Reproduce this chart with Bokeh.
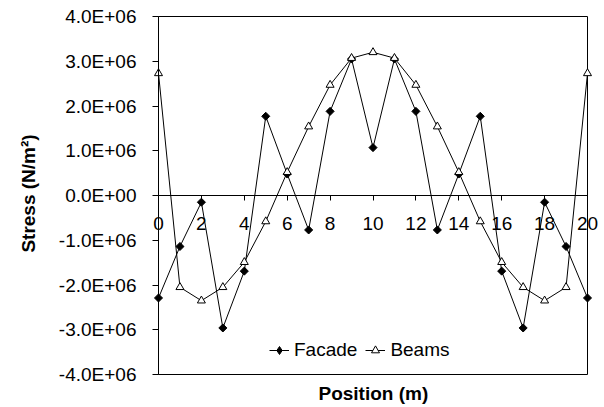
from bokeh.plotting import figure
from bokeh.models import (Range1d, FixedTicker, Legend, LegendItem, LinearAxis,
                          Title)
from bokeh.embed import file_html
from bokeh.resources import INLINE

# Stress along the position of the structure
position = list(range(21))
facade = [-2.29e6, -1.14e6, -0.15e6, -2.96e6, -1.69e6, 1.77e6, 0.48e6, -0.77e6,
          1.88e6, 3.05e6, 1.07e6, 3.05e6, 1.88e6, -0.77e6, 0.48e6, 1.77e6,
          -1.69e6, -2.96e6, -0.15e6, -1.14e6, -2.29e6]
beams = [2.73e6, -2.05e6, -2.35e6, -2.05e6, -1.49e6, -0.58e6, 0.52e6, 1.54e6,
         2.47e6, 3.07e6, 3.20e6, 3.07e6, 2.47e6, 1.54e6, 0.52e6, -0.58e6,
         -1.49e6, -2.05e6, -2.35e6, -2.05e6, 2.73e6]

x_ticks = [0, 2, 4, 6, 8, 10, 12, 14, 16, 18, 20]
y_ticks = [-4000000, -3000000, -2000000, -1000000, 0,
           1000000, 2000000, 3000000, 4000000]
y_tick_labels = ["-4.0E+06", "-3.0E+06", "-2.0E+06", "-1.0E+06", "0.0E+00",
                 "1.0E+06", "2.0E+06", "3.0E+06", "4.0E+06"]

FONT = "Liberation Sans"
SIZE = "19px"

x_lo, x_hi = x_ticks[0], x_ticks[-1]
y_lo, y_hi = y_ticks[0], y_ticks[-1]

# The frame is larger than the plotting box so that the tick labels of the
# axes (which sit inside the frame) are never cut off.
W, H = 604, 407
BOX_L, BOX_R, BOX_T, BOX_B = 158, 587, 16, 374   # plotting box, pixels
FRAME_L, FRAME_R, FRAME_T, FRAME_B = 45, 600, 4, 382
px_x = (x_hi - x_lo) / (BOX_R - BOX_L)
px_y = (y_hi - y_lo) / (BOX_B - BOX_T)
x_range = Range1d(x_lo - (BOX_L - FRAME_L) * px_x, x_hi + (FRAME_R - BOX_R) * px_x)
y_range = Range1d(y_lo - (FRAME_B - BOX_B) * px_y, y_hi + (BOX_T - FRAME_T) * px_y)

p = figure(width=W, height=H, output_backend="svg", toolbar_location=None,
           x_range=x_range, y_range=y_range,
           x_axis_location=None, y_axis_location=None,
           min_border_left=FRAME_L, min_border_right=W - FRAME_R,
           min_border_top=FRAME_T, min_border_bottom=H - FRAME_B)
p.background_fill_color = "white"
p.border_fill_color = "white"
p.outline_line_color = None
p.grid.visible = False

# Axis titles
p.add_layout(Title(text="Stress (N/m²)", align="center", text_font=FONT,
                   text_font_size=SIZE, text_font_style="bold",
                   text_color="black", standoff=14), "left")
p.add_layout(Title(text="Position (m)", align="left", offset=273,
                   vertical_align="top", text_font=FONT,
                   text_font_size=SIZE, text_font_style="bold",
                   text_color="black", standoff=0), "below")

# Plotting box
p.quad(left=[x_lo], right=[x_hi], bottom=[y_lo], top=[y_hi],
       fill_color=None, line_color="black", line_width=1)

# x axis crossing at zero stress
xa = LinearAxis(fixed_location=0, bounds=(x_lo, x_hi),
                ticker=FixedTicker(ticks=x_ticks))
xa.axis_line_color = "black"
xa.major_tick_line_color = "black"
xa.major_tick_out = 5
xa.major_tick_in = 0
xa.minor_tick_line_color = None
xa.major_label_text_font = FONT
xa.major_label_text_font_size = SIZE
xa.major_label_text_color = "black"
xa.major_label_standoff = 16
p.add_layout(xa, "below")

# y axis at the start of the positions
ya = LinearAxis(fixed_location=x_lo, bounds=(y_lo, y_hi),
                ticker=FixedTicker(ticks=y_ticks))
ya.major_label_overrides = dict(zip(y_ticks, y_tick_labels))
ya.axis_line_color = "black"
ya.major_tick_line_color = "black"
ya.major_tick_out = 6
ya.major_tick_in = 0
ya.minor_tick_line_color = None
ya.major_label_text_font = FONT
ya.major_label_text_font_size = SIZE
ya.major_label_text_color = "black"
ya.major_label_standoff = 16
p.add_layout(ya, "left")

f_line = p.line(position, facade, line_color="black", line_width=1)
f_pts = p.scatter(position, facade, marker="square", angle=0.785398, size=5.7,
                  fill_color="black", line_color="black")
b_line = p.line(position, beams, line_color="black", line_width=1)
b_pts = p.scatter(position, beams, marker="triangle", size=8,
                  fill_color="white", line_color="black")

# smaller key markers used only by the legend
f_key = p.scatter(position, facade, marker="diamond", size=8,
                  fill_color="black", line_color="black", visible=False)
b_key = p.scatter(position, beams, marker="triangle", size=6,
                  fill_color="white", line_color="black", visible=False)

legend = Legend(items=[LegendItem(label="Facade", renderers=[f_line, f_key]),
                       LegendItem(label="Beams", renderers=[b_line, b_key])],
                orientation="horizontal",
                location=(BOX_L - FRAME_L + 111, FRAME_B - BOX_B + 13),
                border_line_color=None, background_fill_alpha=0,
                label_text_font=FONT, label_text_font_size=SIZE,
                label_text_color="black", glyph_width=20, label_standoff=5,
                spacing=8, padding=4, margin=0)
p.add_layout(legend)

open("out.html", "w").write(file_html(p, INLINE))
